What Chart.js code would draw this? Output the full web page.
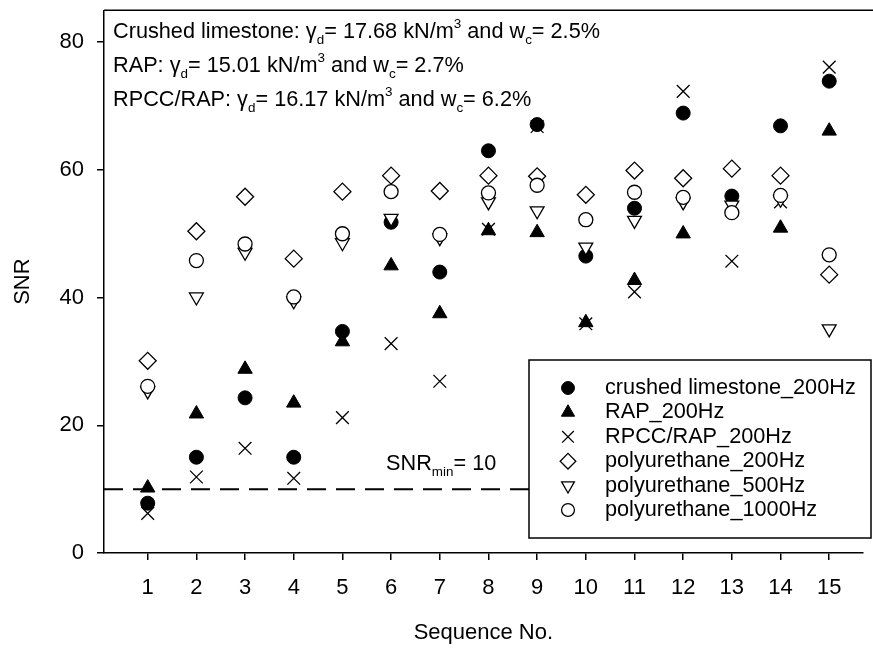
<!DOCTYPE html>
<html><head><meta charset="utf-8">
<script src="https://cdn.jsdelivr.net/npm/chart.js@4/dist/chart.umd.min.js"></script>
<style>html,body{margin:0;padding:0;background:#fff;overflow:hidden}</style>
</head><body>
<canvas id="c" width="873" height="650"></canvas>
<script>
// ---- data ----
const sequenceNo = [1,2,3,4,5,6,7,8,9,10,11,12,13,14,15];
const crushedLimestone_200Hz = [7.8, 15.0, 24.3, 15.0, 34.7, 51.8, 44.0, 63.0, 67.1, 46.5, 54.0, 68.9, 55.9, 66.9, 73.9];
const RAP_200Hz            = [10.2, 21.8, 28.8, 23.5, 33.1, 45.0, 37.5, 50.5, 50.2, 36.1, 42.7, 50.0, null, 50.9, 66.1];
const RPCC_RAP_200Hz       = [6.2, 11.9, 16.4, 11.7, 21.2, 32.8, 26.9, 50.7, 66.8, 35.9, 40.9, 72.3, 45.7, 55.0, 76.1];
const polyurethane_200Hz   = [30.1, 50.4, 55.8, 46.1, 56.6, 59.1, 56.7, 59.1, 59.0, 56.1, 59.9, 58.7, 60.2, 59.1, 43.6];
const polyurethane_500Hz   = [25.4, 40.1, 47.1, 39.5, 48.6, 52.4, 49.4, 55.0, 53.6, 47.9, 52.1, 55.0, 54.5, 55.4, 35.1];
const polyurethane_1000Hz  = [26.1, 45.8, 48.4, 40.1, 50.0, 56.6, 49.9, 56.4, 57.6, 52.2, 56.5, 55.7, 53.3, 56.0, 46.7];
const yTickValues = [0, 20, 40, 60, 80];
const SNR_MIN = 10;
const seriesNames = ['crushed limestone_200Hz','RAP_200Hz','RPCC/RAP_200Hz','polyurethane_200Hz','polyurethane_500Hz','polyurethane_1000Hz'];

const X_MIN = 0.102, X_MAX = 15.688, Y_MIN = 0, Y_MAX = 85;
const FONT = "'Liberation Sans', Arial, sans-serif";
const FAM = 'Liberation Sans';

function pts(arr){ return sequenceNo.map((s,i)=>({x:s,y:arr[i]})).filter(p=>p.y!==null); }

const styles = [
  {pointStyle:'circle',   radius:7,   rotation:0,   fill:'#000', borderWidth:1},
  {pointStyle:'triangle', radius:8.3, rotation:0,   fill:'#000', borderWidth:1},
  {pointStyle:'crossRot', radius:9,   rotation:0,   fill:'#000', borderWidth:1.3},
  {pointStyle:'rectRot',  radius:8.5, rotation:0,   fill:'#fff', borderWidth:1.3},
  {pointStyle:'triangle', radius:8,   rotation:180, fill:'#fff', borderWidth:1.3},
  {pointStyle:'circle',   radius:7,   rotation:0,   fill:'#fff', borderWidth:1.3}
];
const seriesData = [crushedLimestone_200Hz, RAP_200Hz, RPCC_RAP_200Hz, polyurethane_200Hz, polyurethane_500Hz, polyurethane_1000Hz];

const datasets = seriesData.map((arr,i)=>({
  type:'scatter',
  label: seriesNames[i],
  data: pts(arr),
  pointStyle: styles[i].pointStyle,
  pointRadius: styles[i].radius,
  pointRotation: styles[i].rotation,
  pointBackgroundColor: styles[i].fill,
  pointBorderColor: '#000',
  pointBorderWidth: styles[i].borderWidth,
  showLine:false,
  order: seriesData.length - i
}));
datasets.push({
  type:'line', label:'SNRmin', data:[{x:X_MIN,y:SNR_MIN},{x:X_MAX,y:SNR_MIN}],
  borderColor:'#000', borderWidth:2, borderDash:[19,10], pointRadius:0, order:100, fill:false
});

function drawRich(ctx, x, y, parts, size){
  let cx = x;
  for (const p of parts){
    const s = p.sub || p.sup ? size*0.62 : size;
    ctx.font = s + "px " + FONT;
    const dy = p.sub ? size*0.28 : (p.sup ? -size*0.42 : 0);
    ctx.fillText(p.t, cx, y + dy);
    cx += ctx.measureText(p.t).width;
  }
}

const overlay = {
  id:'overlay',
  afterDraw(chart){
    const ctx = chart.ctx, ca = chart.chartArea;
    ctx.save();
    // top frame
    ctx.strokeStyle = '#000'; ctx.lineWidth = 1.5;
    ctx.beginPath(); ctx.moveTo(ca.left, ca.top); ctx.lineTo(chart.width, ca.top); ctx.stroke();
    // annotations
    ctx.fillStyle = '#000'; ctx.textBaseline = 'alphabetic'; ctx.textAlign = 'left';
    const fs = 21.7;
    drawRich(ctx, 113, 37.5, [{t:'Crushed limestone: γ'},{t:'d',sub:1},{t:'= 17.68 kN/m'},{t:'3',sup:1},{t:' and w'},{t:'c',sub:1},{t:'= 2.5%'}], fs);
    drawRich(ctx, 113, 71.5, [{t:'RAP: γ'},{t:'d',sub:1},{t:'= 15.01 kN/m'},{t:'3',sup:1},{t:' and w'},{t:'c',sub:1},{t:'= 2.7%'}], fs);
    drawRich(ctx, 113, 105.5, [{t:'RPCC/RAP: γ'},{t:'d',sub:1},{t:'= 16.17 kN/m'},{t:'3',sup:1},{t:' and w'},{t:'c',sub:1},{t:'= 6.2%'}], fs);
    const ys = chart.scales.y;
    drawRich(ctx, 386, ys.getPixelForValue(SNR_MIN) - 19, [{t:'SNR'},{t:'min',sub:1},{t:'= ' + SNR_MIN}], fs);
    // legend
    const L = 529, T = 360, R = 871, B = 538;
    ctx.fillStyle = '#fff'; ctx.fillRect(L, T, R-L, B-T);
    ctx.strokeStyle = '#000'; ctx.lineWidth = 1.5; ctx.strokeRect(L, T, R-L, B-T);
    ctx.textBaseline = 'middle';
    for (let i=0;i<seriesNames.length;i++){
      const yy = 388 + i*24.4;
      const st = styles[i];
      ctx.fillStyle = st.fill; ctx.strokeStyle = '#000'; ctx.lineWidth = st.borderWidth;
      Chart.helpers.drawPoint(ctx, {pointStyle:st.pointStyle, radius:st.radius*0.92, rotation:st.rotation, borderWidth:st.borderWidth}, 568, yy);
      ctx.fillStyle = '#000';
      ctx.font = fs + "px " + FONT;
      ctx.fillText(seriesNames[i], 605, yy);
    }
    ctx.restore();
  }
};

new Chart(document.getElementById('c'), {
  type:'scatter',
  data:{datasets},
  options:{
    responsive:false, animation:false, devicePixelRatio:1,
    layout:{padding:{top:7, right:0, left:0, bottom:0}},
    plugins:{legend:{display:false}, tooltip:{enabled:false}},
    scales:{
      x:{
        type:'linear', min:X_MIN, max:X_MAX,
        afterBuildTicks(s){ s.ticks = sequenceNo.map(v=>({value:v})); },
        afterFit(s){ s.height = 97; s.paddingLeft = 0; s.paddingRight = 0; },
        grid:{drawOnChartArea:false, drawTicks:true, tickLength:7, color:'#000', lineWidth:1.5},
        border:{display:true, color:'#000', width:1.5},
        ticks:{font:{family:FAM, size:22}, color:'#000', padding:15, maxRotation:0, autoSkip:false,
               callback:(v)=>String(v)},
        title:{display:true, text:'Sequence No.', color:'#000', font:{family:FAM, size:22}, padding:{top:0,bottom:4}}
      },
      y:{
        type:'linear', min:Y_MIN, max:Y_MAX,
        afterBuildTicks(s){ s.ticks = yTickValues.map(v=>({value:v})); },
        afterFit(s){ s.width = 104; s.paddingTop = 0; s.paddingBottom = 0; },
        grid:{drawOnChartArea:false, drawTicks:true, tickLength:7, color:'#000', lineWidth:1.5},
        border:{display:true, color:'#000', width:1.5},
        ticks:{font:{family:FAM, size:22}, color:'#000', padding:13},
        title:{display:true, text:'SNR', color:'#000', font:{family:FAM, size:22}, padding:{top:10,bottom:0}}
      }
    }
  },
  plugins:[overlay]
});
</script>
</body></html>
